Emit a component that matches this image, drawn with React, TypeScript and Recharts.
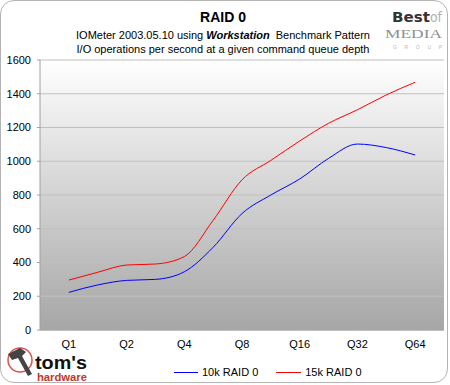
import { LineChart, Line, XAxis, YAxis, CartesianGrid } from "recharts";

/* ── RAID 0: IOMeter Workstation pattern, I/O per second by queue depth ── */

const categories = ["Q1", "Q2", "Q4", "Q8", "Q16", "Q32", "Q64"];
// readings taken at every label and half-way between labels
const depthIndex = [0, 0.5, 1, 1.5, 2, 2.5, 3, 3.5, 4, 4.5, 5, 5.5, 6];
const raid10k = [223, 267, 294, 300, 345, 490, 690, 800, 895, 1017, 1102, 1081, 1037];
const raid15k = [296, 342, 385, 391, 435, 650, 890, 1005, 1120, 1225, 1305, 1393, 1468];
const yTicks = [0, 200, 400, 600, 800, 1000, 1200, 1400, 1600];

const FONT = "'Liberation Sans', Arial, sans-serif";

const data = depthIndex.map((x, i) => ({ x, r10: raid10k[i], r15: raid15k[i] }));

function BestOfMedia() {
  return (
    <svg width={66} height={52} style={{ position: "absolute", left: 382, top: 2 }}>
      <text x={10} y={20} fontFamily="'DejaVu Sans Condensed', 'DejaVu Sans', sans-serif" fontWeight="bold"
        fontSize={14} fill="#333" textLength={38} lengthAdjust="spacingAndGlyphs">Best</text>
      <text x={48} y={20} fontFamily="'DejaVu Sans Condensed', 'DejaVu Sans', sans-serif"
        fontSize={14} fill="#b0b0b0" textLength={12} lengthAdjust="spacingAndGlyphs">of</text>
      <text x={3} y={36} fontFamily="'Liberation Serif', serif" fontSize={13} fill="#909090"
        textLength={57} lengthAdjust="spacingAndGlyphs">MEDIA</text>
      <text x={11} y={47} fontFamily={FONT} fontSize={5} fill="#b8b8b8"
        textLength={49} lengthAdjust="spacing">GROUP</text>
    </svg>
  );
}

function TomsHardware() {
  return (
    <svg width={95} height={44} style={{ position: "absolute", left: 2, top: 340 }}>
      <circle cx={18} cy={20} r={12} fill="none" stroke="#d9534f" strokeWidth={1.5} />
      <path d="M6 14 L18 8 L24 12 L20 16 L30 34 L26 36 L16 18 L10 20 Z" fill="#444" />
      <text x={33} y={29} fontFamily={FONT} fontWeight="bold" fontSize={18} fill="#111"
        textLength={52} lengthAdjust="spacingAndGlyphs">tom's</text>
      <text x={35} y={41} fontFamily={FONT} fontWeight="bold" fontSize={10} fill="#c0392b"
        textLength={50} lengthAdjust="spacingAndGlyphs">hardware</text>
    </svg>
  );
}

export default function App() {
  return (
    <div style={{ position: "relative", width: 450, height: 385, background: "#fff", fontFamily: FONT }}>
      <style>{"body{margin:0}"}</style>
      <div style={{
        position: "absolute", left: 0, top: 0, width: 448, height: 383, boxSizing: "border-box",
        border: "1px solid #b4b4b4", borderRadius: 14,
      }} />

      <div style={{ position: "absolute", left: 0, top: 0 }}>
        <LineChart width={450} height={385} data={data} margin={{ top: 60, right: 6, bottom: 30, left: 0 }}>
          <defs>
            <linearGradient id="plotBg" x1="0" y1="0" x2="0" y2="1">
              <stop offset="0%" stopColor="#ffffff" />
              <stop offset="100%" stopColor="#a6a6a6" />
            </linearGradient>
          </defs>
          <CartesianGrid vertical={false} fill="url(#plotBg)" stroke="#c0c0c0" />
          <XAxis
            type="number"
            dataKey="x"
            domain={[-0.5, 6.5]}
            ticks={[0, 1, 2, 3, 4, 5, 6]}
            interval={0}
            tickFormatter={(v: number) => categories[v]}
            tick={{ fontSize: 11, fill: "#000", fontFamily: FONT }}
            tickLine={false}
            tickMargin={4}
            axisLine={{ stroke: "#a0a0a0" }}
            height={25}
          />
          <YAxis
            domain={[0, 1600]}
            ticks={yTicks}
            interval={0}
            width={40}
            tickSize={3}
            tickMargin={6}
            tick={{ fontSize: 11, fill: "#000", fontFamily: FONT }}
            tickLine={{ stroke: "#a0a0a0" }}
            axisLine={{ stroke: "#a0a0a0" }}
          />
          <Line type="monotone" dataKey="r10" stroke="#0000ff" strokeWidth={1} dot={false} isAnimationActive={false} />
          <Line type="monotone" dataKey="r15" stroke="#ff0000" strokeWidth={1} dot={false} isAnimationActive={false} />
        </LineChart>
      </div>

      {/* titles */}
      <div style={{ position: "absolute", left: 0, width: 446, top: 9, textAlign: "center", fontSize: 14, fontWeight: "bold" }}>
        RAID 0
      </div>
      <div style={{ position: "absolute", left: 0, width: 446, top: 29, textAlign: "center", fontSize: 11 }}>
        IOMeter 2003.05.10 using <b><i>Workstation</i></b>&nbsp; Benchmark Pattern
      </div>
      <div style={{ position: "absolute", left: 0, width: 446, top: 43, textAlign: "center", fontSize: 11 }}>
        I/O operations per second at a given command queue depth
      </div>

      <BestOfMedia />
      <TomsHardware />

      {/* legend */}
      <div style={{ position: "absolute", left: 174, top: 366, display: "flex", alignItems: "center", fontSize: 11 }}>
        <div style={{ width: 24, height: 0, borderTop: "1px solid #0000ff", marginRight: 4 }} />
        <span>10k RAID 0</span>
        <div style={{ width: 25, height: 0, borderTop: "1px solid #ff0000", marginLeft: 18, marginRight: 4 }} />
        <span>15k RAID 0</span>
      </div>
    </div>
  );
}
